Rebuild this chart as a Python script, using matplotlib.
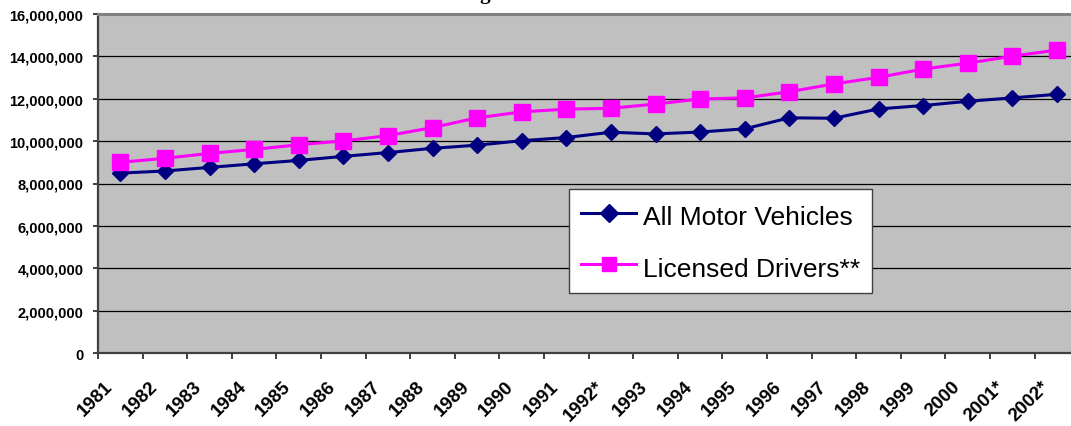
import matplotlib
matplotlib.use('Agg')
import matplotlib.pyplot as plt
from matplotlib.ticker import FuncFormatter
from matplotlib.transforms import blended_transform_factory, ScaledTranslation

years = ['1981', '1982', '1983', '1984', '1985', '1986', '1987', '1988', '1989', '1990',
         '1991', '1992*', '1993', '1994', '1995', '1996', '1997', '1998', '1999', '2000',
         '2001*', '2002*']
vehicles = [8490000, 8590000, 8760000, 8930000, 9090000, 9280000, 9460000, 9660000,
            9810000, 10020000, 10170000, 10420000, 10340000, 10430000, 10580000, 11100000,
            11080000, 11520000, 11680000, 11880000, 12040000, 12210000]
drivers = [9000000, 9190000, 9420000, 9610000, 9830000, 10010000, 10260000, 10640000,
           11100000, 11380000, 11510000, 11550000, 11750000, 11990000, 12040000, 12330000,
           12700000, 13010000, 13400000, 13680000, 14010000, 14300000]
y_ticks = [0, 2000000, 4000000, 6000000, 8000000, 10000000, 12000000, 14000000, 16000000]
title = 'Motor Vehicle Registrations and Licensed Drivers'
label_vehicles = 'All Motor Vehicles'
label_drivers = 'Licensed Drivers**'

W, H = 1071, 427
fig = plt.figure(figsize=(W / 100, H / 100), dpi=100)
fig.patch.set_facecolor('white')

left_px, right_px, top_px, bottom_px = 98, 98 + 44.6 * 22, 15, 354
ax = fig.add_axes([left_px / W, 1 - bottom_px / H, (right_px - left_px) / W, (bottom_px - top_px) / H])
ax.set_facecolor('#C0C0C0')

x = list(range(len(years)))
ax.plot(x, vehicles, color='#000080', lw=2.2, marker='D', ms=8, mec='#000080', mfc='#000080',
        label=label_vehicles, zorder=3)
ax.plot(x, drivers, color='#FF00FF', lw=2.2, marker='s', ms=11, mec='#FF00FF', mfc='#FF00FF',
        label=label_drivers, zorder=4)

ax.set_xlim(-0.5, len(years) - 0.5)
ax.set_ylim(0, 16000000)
ax.set_yticks(y_ticks)
ax.yaxis.set_major_formatter(FuncFormatter(lambda v, p: f'{int(v):,}'))
ax.grid(axis='y', color='#000000', lw=0.9, zorder=1)
ax.set_axisbelow(True)

ax.set_xticks([i - 0.5 for i in range(len(years) + 1)])
ax.set_xticklabels([])
ax.tick_params(axis='x', which='major', length=4.5, width=1.2, color='#202020', direction='out')
ax.tick_params(axis='y', length=3.6, width=1.2, color='#202020', pad=7, labelsize=10.5)
for lbl in ax.get_yticklabels():
    lbl.set_fontweight('bold')
    lbl.set_family('Liberation Sans')

# Rotated category labels (Excel style)
lab_tr = blended_transform_factory(ax.transData, ax.transAxes) + \
    ScaledTranslation(-7.0 / 100, -33.5 / 100, fig.dpi_scale_trans)
for i, yr in enumerate(years):
    ax.text(i, 0, yr, transform=lab_tr, rotation=45, rotation_mode='anchor',
            ha='right', va='baseline', fontsize=13.5, fontweight='bold',
            family='Liberation Sans', clip_on=False)

ax.spines['left'].set_color('#404040')
ax.spines['left'].set_linewidth(1.6)
ax.spines['bottom'].set_color('#404040')
ax.spines['bottom'].set_linewidth(1.6)
ax.spines['top'].set_color('#808080')
ax.spines['top'].set_linewidth(2.2)
ax.spines['right'].set_visible(False)

leg = ax.legend(loc='upper left', bbox_to_anchor=(569 / W, 1 - 190 / H),
                bbox_transform=fig.transFigure, borderaxespad=0, frameon=True,
                fancybox=False, edgecolor='#404040', framealpha=1, facecolor='white',
                prop={'family': 'Liberation Sans', 'size': 19}, handlelength=2.1,
                handleheight=1.32, handletextpad=0.25, labelspacing=0.84, borderpad=0.45,
                markerscale=1.0)
leg.get_frame().set_linewidth(1.0)
leg.get_lines()[0].set_markersize(9)
leg.get_lines()[1].set_markersize(10)

# Title sits mostly above the cropped top edge; only the descender of "g" shows
fig.canvas.draw()
r = fig.canvas.get_renderer()
prefix = title[:title.index('g')]
tp = fig.text(0, 0, prefix, fontsize=15, fontweight='bold', family='Liberation Serif')
tg = fig.text(0, 0, 'g', fontsize=15, fontweight='bold', family='Liberation Serif')
wp = tp.get_window_extent(r).width
wg = tg.get_window_extent(r).width
tp.remove(); tg.remove()
x0 = 485 - wp - wg / 2
fig.text(x0 / W, 1 + 1.5 / H, title, fontsize=15, fontweight='bold', family='Liberation Serif',
         ha='left', va='baseline')

fig.savefig('out.png', dpi=100, facecolor='white')
